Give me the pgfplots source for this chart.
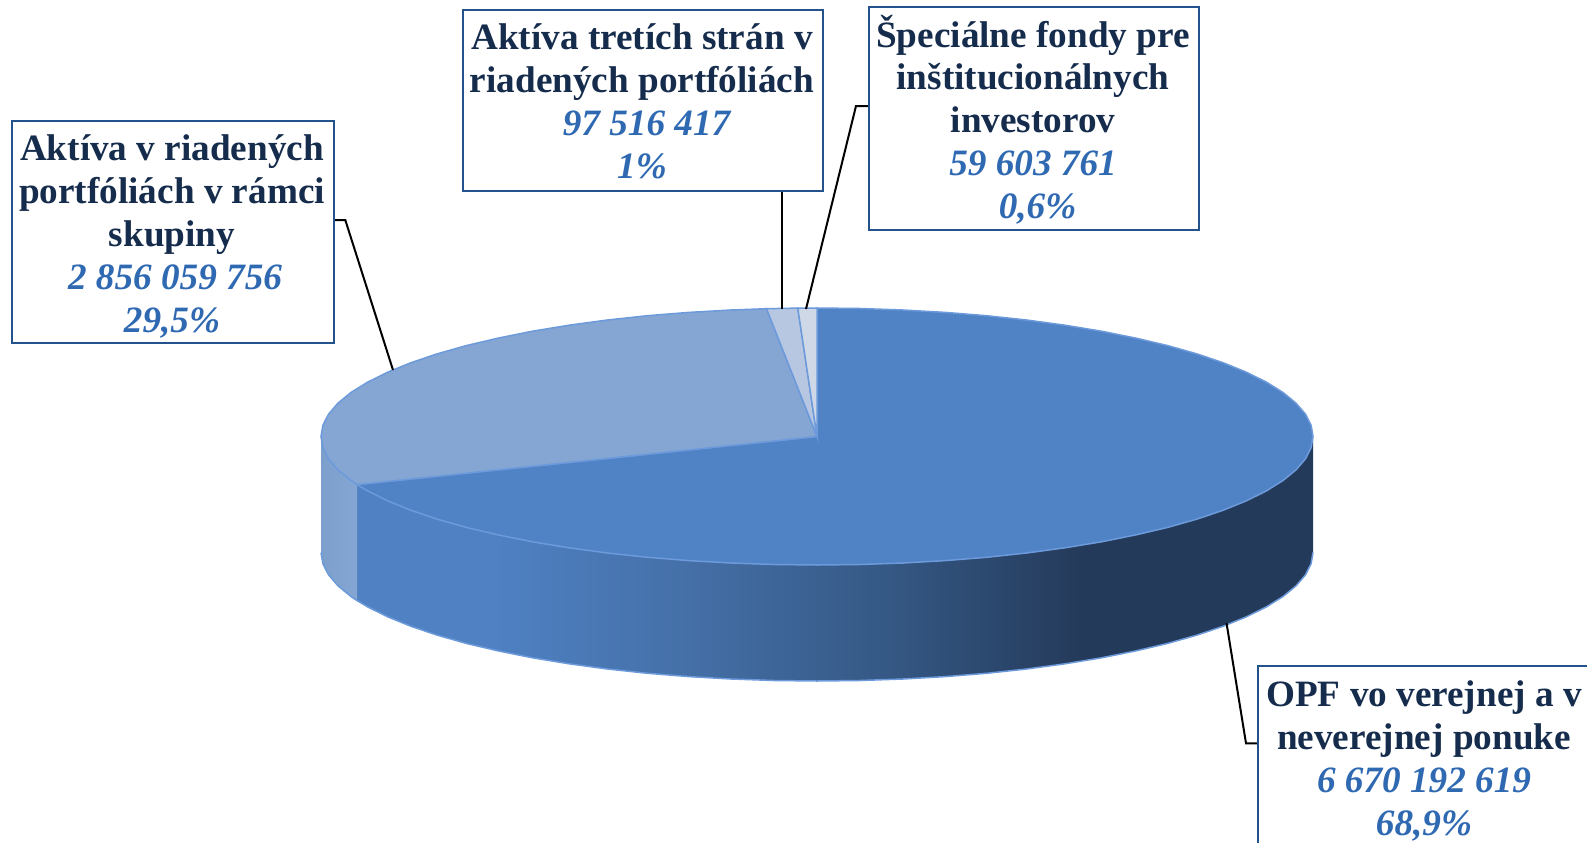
\documentclass[border=0pt]{standalone}
\usepackage{fontspec}
\setmainfont{Liberation Serif}
\usepackage{pgfplots}
\pgfplotsset{compat=1.18}
\definecolor{sA}{HTML}{5083C5}
\definecolor{sB}{HTML}{85A6D3}
\definecolor{sC}{HTML}{B7C7E1}
\definecolor{sD}{HTML}{CFD8E7}
\definecolor{edge}{HTML}{6C9ADB}
\definecolor{boxc}{HTML}{23528C}
\definecolor{tdark}{HTML}{152C4C}
\definecolor{tblue}{HTML}{2F69B2}
\definecolor{gA}{HTML}{4F81C3}
\definecolor{gB}{HTML}{4570A8}
\definecolor{gC}{HTML}{365A87}
\definecolor{gD}{HTML}{243A5A}
\definecolor{hA}{HTML}{7C9FCC}
\definecolor{hB}{HTML}{85A6D3}
\pgfdeclarehorizontalshading{sideone}{100bp}{color(0bp)=(gA); color(32bp)=(gA); color(42bp)=(gB); color(52bp)=(gC); color(63bp)=(gD); color(100bp)=(gD)}
\pgfdeclarehorizontalshading{sidetwo}{100bp}{color(0bp)=(hA); color(25bp)=(hA); color(75bp)=(hB); color(100bp)=(hB)}
\newcommand\nm[1]{{\bfseries\color{tdark}#1}}
\newcommand\vl[1]{{\bfseries\itshape\color{tblue}#1}}
\begin{document}
\begin{tikzpicture}
\begin{axis}[name=ax, axis lines=none, scale only axis, width=1587pt, height=843pt,
  xmin=0, xmax=1587, ymin=0, ymax=843, y dir=reverse, clip=true]
% side of the largest slice
\addplot[draw=none, shading=sideone, mark=none] coordinates {
(1313,436.5)(1311.1,447.7)(1305.5,458.8)(1296.1,469.76)(1283.1,480.45)(1266.5,490.8)(1246.5,500.75)
(1223.3,510.2)(1197,519.1)(1167.7,527.4)(1135.8,534.9)(1101.5,541.8)(1065,547.8)(1026.6,553)(986.6,557.3)
(945.4,560.6)(903.1,563)(860.2,564.5)(817,565)(773.8,564.5)(730.9,563)(688.6,560.6)(647.4,557.3)
(607.4,553)(569,547.8)(532.5,541.8)(498.2,534.9)(466.3,527.4)(437,519.1)(410.7,510.2)(387.5,500.75)(367.5,490.8)(357.1,484.6)
(357.1,600.6)(367.5,606.8)(387.5,616.75)(410.7,626.2)(437,635.1)(466.3,643.4)(498.2,650.9)(532.5,657.8)(569,663.8)
(607.4,669)(647.4,673.3)(688.6,676.6)(730.9,679)(773.8,680.5)(817,681)(860.2,680.5)(903.1,679)(945.4,676.6)
(986.6,673.3)(1026.6,669)(1065,663.8)(1101.5,657.8)(1135.8,650.9)(1167.7,643.4)(1197,635.1)(1223.3,626.2)(1246.5,616.75)(1266.5,606.8)
(1283.1,596.45)(1296.1,585.76)(1305.5,574.8)(1311.1,563.7)(1313,552.5)(1313,436.5)} --cycle;
% side of the second slice
\addplot[draw=none, shading=sidetwo, mark=none] coordinates {
(357.1,484.6)(350.9,480.45)(337.9,469.76)(328.5,458.8)(322.9,447.7)(321,436.5)
(321,552.5)(322.9,563.7)(328.5,574.8)(337.9,585.76)(350.9,596.45)(357.1,600.6)(357.1,484.6)} --cycle;
% bottom rim
\addplot[draw=edge, line width=1.5pt, mark=none] coordinates {
(1313,552.5)(1311.1,563.7)(1305.5,574.8)(1296.1,585.76)(1283.1,596.45)(1266.5,606.8)(1246.5,616.75)(1223.3,626.2)
(1197,635.1)(1167.7,643.4)(1135.8,650.9)(1101.5,657.8)(1065,663.8)(1026.6,669)(986.6,673.3)(945.4,676.6)(903.1,679)(860.2,680.5)
(817,681)(773.8,680.5)(730.9,679)(688.6,676.6)(647.4,673.3)(607.4,669)(569,663.8)(532.5,657.8)(498.2,650.9)(466.3,643.4)
(437,635.1)(410.7,626.2)(387.5,616.75)(367.5,606.8)(357.1,600.6)(350.9,596.45)(337.9,585.76)
(328.5,574.8)(322.9,563.7)(321,552.5)};
% top faces
\addplot[fill=sA, draw=edge, line width=1.5pt, mark=none] coordinates {
(817,436.5)(817,308)(860.2,308.5)(903.1,310)(945.4,312.4)(986.6,315.7)(1026.6,320)(1065,325.2)(1101.5,331.2)
(1135.8,338.1)(1167.7,345.6)(1197,353.9)(1223.3,362.8)(1246.5,372.25)
(1266.5,382.2)(1283.1,392.55)(1296.1,403.24)(1305.5,414.2)(1311.1,425.3)(1313,436.5)(1311.1,447.7)
(1305.5,458.8)(1296.1,469.76)(1283.1,480.45)(1266.5,490.8)(1246.5,500.75)(1223.3,510.2)(1197,519.1)(1167.7,527.4)(1135.8,534.9)(1101.5,541.8)
(1065,547.8)(1026.6,553)(986.6,557.3)(945.4,560.6)(903.1,563)(860.2,564.5)(817,565)(773.8,564.5)(730.9,563)(688.6,560.6)(647.4,557.3)(607.4,553)(569,547.8)(532.5,541.8)(498.2,534.9)
(466.3,527.4)(437,519.1)(410.7,510.2)(387.5,500.75)(367.5,490.8)(357.1,484.6)(817,436.5)} --cycle;
\addplot[fill=sB, draw=edge, line width=1.5pt, mark=none] coordinates {
(817,436.5)(357.1,484.6)(350.9,480.45)(337.9,469.76)(328.5,458.8)(322.9,447.7)(321,436.5)(322.9,425.3)
(328.5,414.2)(337.9,403.24)(350.9,392.55)(367.5,382.2)(387.5,372.25)(410.7,362.8)(437,353.9)(466.3,345.6)(498.2,338.1)(532.5,331.2)(569,325.2)
(607.4,320)(647.4,315.7)(688.6,312.4)(730.9,310)(766.5,308.7)(817,436.5)} --cycle;
\addplot[fill=sC, draw=edge, line width=1.5pt, mark=none] coordinates {
(817,436.5)(766.5,308.7)(797.8,308.1)(817,436.5)} --cycle;
\addplot[fill=sD, draw=edge, line width=1.5pt, mark=none] coordinates {
(817,436.5)(797.8,308.1)(817,308)(817,436.5)} --cycle;
% leader lines
\addplot[black, line width=2pt, mark=none] coordinates {(334,220)(345.3,220)(393,370)};
\addplot[black, line width=2pt, mark=none] coordinates {(781.8,190.7)(781.8,309.3)};
\addplot[black, line width=2pt, mark=none] coordinates {(868.5,106)(856,106)(806,309)};
\addplot[black, line width=2pt, mark=none] coordinates {(1226.5,623)(1246,743.3)(1258.3,743.3)};
% label boxes
\addplot[boxc, line width=2pt, mark=none] coordinates {(11.5,120.7)(334,120.7)(334,343)(11.5,343)(11.5,120.7)} --cycle;
\addplot[boxc, line width=2pt, mark=none] coordinates {(462.5,10)(823,10)(823,190.7)(462.5,190.7)(462.5,10)} --cycle;
\addplot[boxc, line width=2pt, mark=none] coordinates {(868.7,6.7)(1199,6.7)(1199,230)(868.7,230)(868.7,6.7)} --cycle;
\addplot[boxc, line width=2pt, mark=none] coordinates {(1587,665.7)(1258.3,665.7)(1258.3,843)};
% labels
\tikzset{lab/.style={align=center, inner sep=0pt, font=\fontsize{37.2}{42.8}\selectfont}}
\node[lab] at (axis cs:172,236.5) {\nm{Aktíva v riadených}\\\nm{portfóliách v rámci}\\\nm{skupiny}\\\hspace*{6pt}\vl{2 856 059 756}\\\vl{29,5\%}};
\node[lab] at (axis cs:642,101.5) {\nm{Aktíva tretích strán v}\\\nm{riadených portfóliách}\\\hspace*{9pt}\vl{97 516 417}\\\vl{1\%}};
\node[lab] at (axis cs:1033,119.5) {\nm{Špeciálne fondy pre}\\\nm{inštitucionálnych}\\\nm{investorov}\\\vl{59 603 761}\\\hspace*{9pt}\vl{0,6\%}};
\node[lab] at (axis cs:1424,761) {\nm{OPF vo verejnej a v}\\\nm{neverejnej ponuke}\\\vl{6 670 192 619}\\\vl{68,9\%}};
\end{axis}
\pgfresetboundingbox
\path[use as bounding box] (ax.south west) rectangle (ax.north east);
\end{tikzpicture}
\end{document}
